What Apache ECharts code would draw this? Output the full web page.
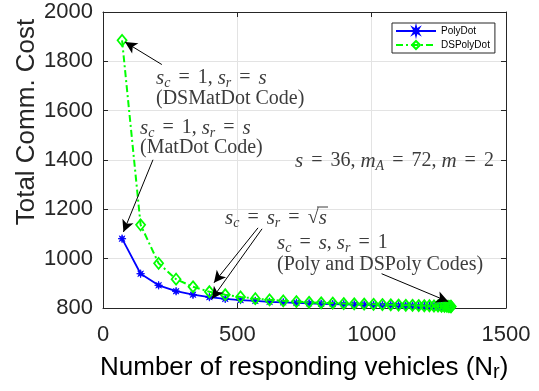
<!DOCTYPE html>
<html><head><meta charset="utf-8">
<script src="https://cdn.jsdelivr.net/npm/echarts@6/dist/echarts.min.js"></script>
<style>html,body{margin:0;padding:0;background:#fff}#c{width:539px;height:391px}</style>
</head><body><div id="c"></div>
<script>
// Number of responding vehicles N_r
const xs = [71, 140, 207, 272, 335, 396, 455, 512, 567, 620, 671, 720, 767, 812, 855, 896, 935, 972,
  1007, 1040, 1071, 1100, 1127, 1152, 1175, 1196, 1215, 1232, 1247, 1260, 1271, 1280, 1287, 1292, 1295, 1296];
const polyDot = [1081, 939, 892, 868, 854, 844, 837, 832, 829, 825, 823, 821, 819, 817, 816, 815, 814, 813,
  812, 811, 811, 810, 809, 809, 808, 808, 808, 807, 807, 806, 806, 806, 806, 805, 805, 805];
const dsPolyDot = [1885, 1137, 981, 917, 886, 866, 854, 845, 838, 833, 829, 826, 823, 821, 820, 818, 817, 816,
  815, 814, 813, 812, 811, 811, 810, 809, 809, 808, 808, 807, 807, 807, 806, 806, 806, 806];
const xTicks = [0, 500, 1000, 1500];
const yTicks = [800, 1000, 1200, 1400, 1600, 1800, 2000];
const seriesNames = ['PolyDot', 'DSPolyDot'];

const chart = echarts.init(document.getElementById('c'), null, {renderer: 'canvas'});
const axisCol = '#262626';
const txtCol = '#3c3c3c';
const serif = 'Liberation Serif';
const rich = {
  i: {fontFamily: serif, fontStyle: 'italic', fontSize: 21, color: txtCol, lineHeight: 24},
  n: {fontFamily: serif, fontSize: 20, color: txtCol, lineHeight: 24},
  e: {fontFamily: serif, fontSize: 20, color: txtCol, lineHeight: 24, padding: [0, 3, 0, 3]},
  b: {fontFamily: serif, fontStyle: 'italic', fontSize: 14, color: txtCol, lineHeight: 10, verticalAlign: 'bottom'}
};
function rt(x, y, text, align) {
  return {type: 'text', x: x, y: y, style: {text: text, rich: rich, verticalAlign: 'middle', align: align || 'left', fill: txtCol, font: '20px ' + serif}, silent: true, z: 10};
}
const star = 'path://M5,0 L1.848,0.765 L3.536,3.536 L0.765,1.848 L0,5 L-0.765,1.848 L-3.536,3.536 L-1.848,0.765 L-5,0 L-1.848,-0.765 L-3.536,-3.536 L-0.765,-1.848 L0,-5 L0.765,-1.848 L3.536,-3.536 L1.848,-0.765 Z';

function arrow(a, b) {
  return [{coord: a, symbol: 'none'}, {coord: b, symbol: 'arrow', symbolSize: [9, 12]}];
}

const xMin = xTicks[0], xMax = xTicks[xTicks.length - 1], xInt = xTicks[1] - xTicks[0];
const yMin = yTicks[0], yMax = yTicks[yTicks.length - 1], yInt = yTicks[1] - yTicks[0];
const fmt = v => String(v);

function xAx(pos, main) {
  return {type: 'value', min: xMin, max: xMax, interval: xInt, position: pos,
    axisLine: {show: true, onZero: false, lineStyle: {color: axisCol, width: 1}},
    axisTick: {show: true, inside: true, length: 5, lineStyle: {color: axisCol}},
    axisLabel: {show: main, fontSize: 22, color: axisCol, fontFamily: 'Liberation Sans', margin: 16, formatter: fmt},
    splitLine: {show: main, lineStyle: {color: '#e3e3e3', width: 1}}};
}
function yAx(pos, main) {
  return {type: 'value', min: yMin, max: yMax, interval: yInt, position: pos,
    axisLine: {show: true, onZero: false, lineStyle: {color: axisCol, width: 1}},
    axisTick: {show: true, inside: true, length: 5, lineStyle: {color: axisCol}},
    axisLabel: {show: main, fontSize: 22, color: axisCol, fontFamily: 'Liberation Sans', margin: 10, formatter: fmt},
    splitLine: {show: main, lineStyle: {color: '#e3e3e3', width: 1}}};
}

chart.setOption({
  animation: false,
  backgroundColor: '#fff',
  grid: {left: 103, right: 33, top: 12, bottom: 83, containLabel: false},
  xAxis: [xAx('bottom', true), xAx('top', false)],
  yAxis: [yAx('left', true), yAx('right', false)],
  legend: {
    data: seriesNames, left: 392, top: 23, orient: 'vertical',
    backgroundColor: '#fff', borderColor: axisCol, borderWidth: 1, borderRadius: 0,
    padding: [3, 5, 3, 3], itemGap: 4, itemWidth: 40, itemHeight: 10,
    textStyle: {fontSize: 10, fontFamily: 'Liberation Sans', color: '#000'}
  },
  series: [
    {name: seriesNames[0], type: 'line', data: xs.map((x, i) => [x, polyDot[i]]),
      symbol: star, symbolSize: 8, showAllSymbol: true,
      itemStyle: {color: '#0000ff', borderColor: '#0000ff', borderWidth: 0.8},
      lineStyle: {color: '#0000ff', width: 1.8}, z: 2,
      markLine: {
        silent: true, symbol: ['none', 'arrow'], symbolSize: 11, animation: false,
        label: {show: false},
        lineStyle: {color: '#000', width: 1, type: 'solid'},
        itemStyle: {color: '#000'},
        emphasis: {disabled: true},
        data: [
          arrow([219, 1787], [82, 1878]),
          arrow([186, 1401], [76, 1108]),
          arrow([577, 1125], [413, 902]),
          arrow([592, 1121], [405, 836]),
          arrow([1037, 939], [1285, 826])
        ]
      }},
    {name: seriesNames[1], type: 'line', data: xs.map((x, i) => [x, dsPolyDot[i]]),
      symbol: 'diamond', symbolSize: [9, 11], showAllSymbol: true,
      itemStyle: {color: 'rgba(0,0,0,0)', borderColor: '#00ff00', borderWidth: 1.8},
      lineStyle: {color: '#00ff00', width: 2, type: [7, 3, 2, 3]}, z: 3}
  ],
  graphic: [
    rt(156, 78, '{i|s}{b|c}{e| = }{n|1, }{i|s}{b|r}{e| = }{i|s}'),
    rt(156, 99, '{n|(DSMatDot Code)}'),
    rt(140, 128, '{i|s}{b|c}{e| = }{n|1, }{i|s}{b|r}{e| = }{i|s}'),
    rt(140, 148, '{n|(MatDot Code)}'),
    rt(295, 161, '{i|s}{e| = }{n|36, }{i|m}{b|A}{e| = }{n|72, }{i|m}{e| = }{n|2}'),
    rt(225, 218, '{i|s}{b|c}{e| = }{i|s}{b|r}{e| = }'),
    rt(327, 218, '{n|√}{i|s}', 'right'),
    {type: 'line', shape: {x1: 317, y1: 207, x2: 328, y2: 207}, style: {stroke: txtCol, lineWidth: 1}, silent: true, z: 10},
    rt(277, 243, '{i|s}{b|c}{e| = }{i|s}{n|, }{i|s}{b|r}{e| = }{n|1}'),
    rt(277, 265, '{n|(Poly and DSPoly Codes)}'),
    {type: 'text', x: 27, y: 122, rotation: Math.PI / 2,
      style: {text: 'Total Comm. Cost', font: '26px Liberation Sans', fill: axisCol, align: 'center', verticalAlign: 'middle'}, silent: true},
    {type: 'text', x: 100, y: 368,
      style: {text: '{m|Number of responding vehicles (N}{s|r}{m|)}', verticalAlign: 'middle', align: 'left',
        rich: {
          m: {fontSize: 26, fontFamily: 'Liberation Sans', color: axisCol, lineHeight: 28},
          s: {fontSize: 20, fontFamily: 'Liberation Sans', color: axisCol, lineHeight: 1, verticalAlign: 'bottom'}
        }}, silent: true}
  ]
});
</script></body></html>
